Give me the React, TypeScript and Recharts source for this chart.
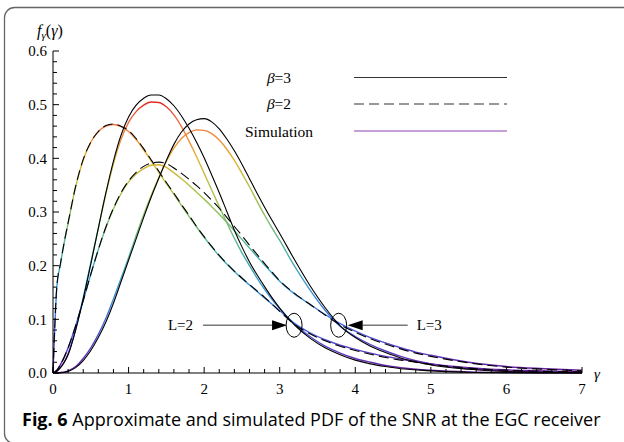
import { LineChart, Line, XAxis, YAxis, ReferenceDot } from "recharts";

// gamma grid (x values)
const gamma = [0, 0.05, 0.1, 0.15, 0.2, 0.3, 0.4, 0.5, 0.6, 0.7, 0.8, 0.9, 1.0, 1.1, 1.2, 1.3, 1.4, 1.5, 1.6, 1.7, 1.8, 1.9, 2.0, 2.1, 2.2, 2.3, 2.4, 2.5, 2.6, 2.7, 2.8, 2.9, 3.0, 3.2, 3.4, 3.6, 3.8, 4.0, 4.2, 4.4, 4.6, 4.8, 5.0, 5.5, 6.0, 6.5, 7.0];

// approximations
const beta2L2 = [0, 0.16, 0.205, 0.245, 0.28, 0.348, 0.398, 0.43, 0.45, 0.461, 0.464, 0.46, 0.452, 0.437, 0.418, 0.397, 0.376, 0.355, 0.335, 0.314, 0.294, 0.273, 0.254, 0.236, 0.219, 0.204, 0.19, 0.177, 0.165, 0.153, 0.141, 0.128, 0.115, 0.09, 0.073, 0.06, 0.05, 0.042, 0.035, 0.029, 0.024, 0.02, 0.016, 0.009, 0.005, 0.003, 0.002];
const beta3L2 = [0, 0.003, 0.01, 0.02, 0.034, 0.08, 0.138, 0.203, 0.27, 0.336, 0.395, 0.443, 0.477, 0.499, 0.512, 0.518, 0.518, 0.511, 0.498, 0.479, 0.456, 0.43, 0.401, 0.369, 0.336, 0.301, 0.266, 0.235, 0.207, 0.183, 0.161, 0.14, 0.121, 0.089, 0.065, 0.047, 0.034, 0.024, 0.017, 0.012, 0.008, 0.006, 0.004, 0.0015, 0.0005, 0.0002, 0.0001];
const beta2L3 = [0, 0.005, 0.016, 0.03, 0.047, 0.088, 0.135, 0.184, 0.23, 0.272, 0.307, 0.336, 0.358, 0.374, 0.385, 0.391, 0.393, 0.39, 0.382, 0.372, 0.361, 0.349, 0.336, 0.322, 0.307, 0.29, 0.273, 0.256, 0.238, 0.221, 0.204, 0.188, 0.172, 0.148, 0.128, 0.108, 0.09, 0.076, 0.064, 0.054, 0.045, 0.037, 0.031, 0.019, 0.011, 0.007, 0.004];
const beta3L3 = [0, 0, 0.0005, 0.001, 0.003, 0.01, 0.023, 0.042, 0.066, 0.095, 0.13, 0.17, 0.21, 0.25, 0.29, 0.328, 0.363, 0.396, 0.426, 0.449, 0.464, 0.472, 0.474, 0.468, 0.455, 0.436, 0.414, 0.389, 0.362, 0.335, 0.309, 0.284, 0.26, 0.21, 0.163, 0.122, 0.088, 0.066, 0.05, 0.038, 0.028, 0.021, 0.015, 0.007, 0.003, 0.0015, 0.0007];

// simulations
const simB2L2 = [0, 0.158, 0.204, 0.244, 0.279, 0.347, 0.397, 0.43, 0.45, 0.46, 0.463, 0.459, 0.45, 0.435, 0.416, 0.395, 0.374, 0.353, 0.333, 0.312, 0.292, 0.272, 0.253, 0.235, 0.218, 0.203, 0.189, 0.176, 0.164, 0.152, 0.14, 0.128, 0.116, 0.092, 0.075, 0.062, 0.052, 0.044, 0.037, 0.031, 0.026, 0.021, 0.017, 0.01, 0.006, 0.004, 0.002];
const simB3L2 = [0, 0.003, 0.011, 0.021, 0.036, 0.082, 0.14, 0.205, 0.27, 0.334, 0.39, 0.435, 0.467, 0.487, 0.499, 0.505, 0.504, 0.496, 0.481, 0.459, 0.432, 0.403, 0.372, 0.341, 0.31, 0.28, 0.251, 0.224, 0.2, 0.177, 0.156, 0.137, 0.12, 0.091, 0.068, 0.05, 0.037, 0.027, 0.02, 0.014, 0.01, 0.007, 0.005, 0.002, 0.001, 0.0005, 0.0002];
const simB2L3 = [0, 0.005, 0.016, 0.03, 0.047, 0.088, 0.135, 0.184, 0.23, 0.271, 0.306, 0.334, 0.356, 0.371, 0.381, 0.387, 0.388, 0.383, 0.373, 0.362, 0.35, 0.337, 0.324, 0.31, 0.296, 0.281, 0.265, 0.249, 0.233, 0.217, 0.201, 0.186, 0.171, 0.147, 0.128, 0.109, 0.092, 0.078, 0.066, 0.056, 0.047, 0.039, 0.033, 0.02, 0.012, 0.008, 0.005];
const simB3L3 = [0, 0, 0.001, 0.002, 0.004, 0.012, 0.027, 0.047, 0.072, 0.102, 0.138, 0.176, 0.215, 0.256, 0.295, 0.331, 0.364, 0.394, 0.419, 0.437, 0.448, 0.453, 0.452, 0.446, 0.434, 0.417, 0.396, 0.372, 0.347, 0.32, 0.294, 0.27, 0.247, 0.198, 0.155, 0.117, 0.087, 0.068, 0.053, 0.041, 0.031, 0.023, 0.017, 0.008, 0.004, 0.002, 0.001];

const xTicks = [0, 0.2, 0.4, 0.6, 0.8, 1, 1.2, 1.4, 1.6, 1.8, 2, 2.2, 2.4, 2.6, 2.8, 3, 3.2, 3.4, 3.6, 3.8, 4, 4.2, 4.4, 4.6, 4.8, 5, 5.2, 5.4, 5.6, 5.8, 6, 6.2, 6.4, 6.6, 6.8, 7];
const xMajor = [0, 1, 2, 3, 4, 5, 6, 7];
const yTicks = [0, 0.02, 0.04, 0.06, 0.08, 0.1, 0.12, 0.14, 0.16, 0.18, 0.2, 0.22, 0.24, 0.26, 0.28, 0.3, 0.32, 0.34, 0.36, 0.38, 0.4, 0.42, 0.44, 0.46, 0.48, 0.5, 0.52, 0.54, 0.56, 0.58, 0.6];
const yMajor = [0, 0.1, 0.2, 0.3, 0.4, 0.5, 0.6];

const legendLabels = ["3", "2", "Simulation"];
const markerNames = ["L=2", "L=3"];
const markerGamma = [3.19, 3.78];
const markerValue = [0.089, 0.089];

const SERIF = "'Liberation Serif', 'Times New Roman', serif";

const data = gamma.map((g, i) => ({
  gamma: g,
  b2l2: beta2L2[i],
  b3l2: beta3L2[i],
  b2l3: beta2L3[i],
  b3l3: beta3L3[i],
  s2l2: simB2L2[i],
  s3l2: simB3L2[i],
  s2l3: simB2L3[i],
  s3l3: simB3L3[i],
}));

const simKeys = ["s2l2", "s3l2", "s2l3", "s3l3"];
const solidKeys = ["b3l2", "b3l3"];
const dashedKeys = ["b2l2", "b2l3"];

const YTick = (props: any) => {
  const { x, y, payload } = props;
  const v = payload.value;
  const major = yMajor.some((m) => Math.abs(m - v) < 1e-9);
  return (
    <g>
      <line x1={x} x2={x + (major ? 6 : 4)} y1={y} y2={y} stroke="#000" strokeWidth={1} />
      {major && (
        <text x={x - 6} y={y} dy="0.35em" textAnchor="end" fontFamily={SERIF} fontSize={15} fill="#000">
          {v.toFixed(1)}
        </text>
      )}
    </g>
  );
};

const XTick = (props: any) => {
  const { x, y, payload } = props;
  const v = payload.value;
  const major = xMajor.some((m) => Math.abs(m - v) < 1e-9);
  return (
    <g>
      <line x1={x} x2={x} y1={y} y2={y - (major ? 6 : 4)} stroke="#000" strokeWidth={1} />
      {major && (
        <text x={x} y={y + 21} textAnchor="middle" fontFamily={SERIF} fontSize={15} fill="#000">
          {v}
        </text>
      )}
    </g>
  );
};

// arrow + ellipse annotation, offsets in px relative to the ellipse centre
const markerStyle = [
  { side: -1, tip: 7, back: 22, tail: 91, text: 101 },
  { side: 1, tip: 9, back: 24, tail: 69, text: 78 },
];

const makeMarker = (i: number) => (p: any) => {
  const { cx, cy } = p;
  const st = markerStyle[i];
  const s = st.side;
  return (
    <g>
      <ellipse cx={cx} cy={cy} rx={8} ry={12} fill="none" stroke="#000" strokeWidth={1} />
      <line x1={cx + s * st.tail} x2={cx + s * st.back} y1={cy} y2={cy} stroke="#777" strokeWidth={1.6} />
      <polygon
        points={`${cx + s * st.tip},${cy} ${cx + s * st.back},${cy - 5} ${cx + s * st.back},${cy + 5}`}
        fill="#000"
      />
      <text
        x={cx + s * st.text}
        y={cy + 5}
        textAnchor={s < 0 ? "end" : "start"}
        fontFamily={SERIF}
        fontSize={15}
        fill="#000"
      >
        {markerNames[i]}
      </text>
    </g>
  );
};

export default function App() {
  return (
    <div style={{ position: "absolute", left: 0, top: 0, width: 624, height: 442, overflow: "hidden", background: "#fff" }}>
      <div style={{ position: "absolute", left: 0, top: 0 }}>
        <LineChart width={624} height={400} data={data} margin={{ top: 51, right: 42, bottom: 0, left: 0 }}>
          <defs>
            <linearGradient id="simGrad" gradientUnits="userSpaceOnUse" x1="0" y1="373" x2="0" y2="94">
              <stop offset="0" stopColor="#6a1b9a" />
              <stop offset="0.08" stopColor="#5a3cc8" />
              <stop offset="0.19" stopColor="#3f6fe0" />
              <stop offset="0.33" stopColor="#3e9fd0" />
              <stop offset="0.44" stopColor="#4fb3a3" />
              <stop offset="0.58" stopColor="#8cbf5a" />
              <stop offset="0.69" stopColor="#bfbf40" />
              <stop offset="0.77" stopColor="#e2b030" />
              <stop offset="0.85" stopColor="#f08c40" />
              <stop offset="0.92" stopColor="#f06040" />
              <stop offset="0.98" stopColor="#e02020" />
            </linearGradient>
          </defs>
          <XAxis
            dataKey="gamma"
            type="number"
            domain={[0, 7]}
            ticks={xTicks}
            interval={0}
            height={27}
            tickSize={0}
            tickMargin={0}
            tick={<XTick />}
            axisLine={{ stroke: "#000", strokeWidth: 1 }}
          />
          <YAxis
            type="number"
            domain={[0, 0.6]}
            ticks={yTicks}
            interval={0}
            width={53}
            tickSize={0}
            tickMargin={0}
            tick={<YTick />}
            axisLine={{ stroke: "#000", strokeWidth: 1 }}
          />
          {simKeys.map((k) => (
            <Line key={k} dataKey={k} type="monotone" stroke="url(#simGrad)" strokeWidth={1.4} dot={false} isAnimationActive={false} />
          ))}
          {solidKeys.map((k) => (
            <Line key={k} dataKey={k} type="monotone" stroke="#000" strokeWidth={1.1} dot={false} isAnimationActive={false} />
          ))}
          {dashedKeys.map((k) => (
            <Line key={k} dataKey={k} type="monotone" stroke="#000" strokeWidth={1.1} strokeDasharray="10 5" dot={false} isAnimationActive={false} />
          ))}
          {markerNames.map((n, i) => (
            <ReferenceDot key={n} x={markerGamma[i]} y={markerValue[i]} r={8} shape={makeMarker(i)} />
          ))}
        </LineChart>
      </div>
      <svg width={624} height={442} style={{ position: "absolute", left: 0, top: 0, pointerEvents: "none" }}>
        <rect x={4.5} y={7.5} width={700} height={436} rx={10} fill="none" stroke="#666" strokeWidth={1.3} />
        <text x={37} y={36} fontFamily={SERIF} fontSize={16} fill="#000">
          <tspan fontStyle="italic">f</tspan>
          <tspan fontStyle="italic" fontSize={11} dy={3}>γ</tspan>
          <tspan dy={-3}>(</tspan>
          <tspan fontStyle="italic">γ</tspan>
          <tspan>)</tspan>
        </text>
        <text x={594} y={379} fontFamily={SERIF} fontStyle="italic" fontSize={15} fill="#000">γ</text>
        {/* legend */}
        <text x={279} y={83} textAnchor="middle" fontFamily={SERIF} fontSize={15.5} fill="#000">
          <tspan fontStyle="italic">β</tspan>={legendLabels[0]}
        </text>
        <line x1={354} x2={507} y1={77.5} y2={77.5} stroke="#333" strokeWidth={1.2} />
        <text x={279} y={109} textAnchor="middle" fontFamily={SERIF} fontSize={15.5} fill="#000">
          <tspan fontStyle="italic">β</tspan>={legendLabels[1]}
        </text>
        <line x1={354} x2={507} y1={104} y2={104} stroke="#333" strokeWidth={1.2} strokeDasharray="10 5" />
        <text x={279} y={137} textAnchor="middle" fontFamily={SERIF} fontSize={15.5} fill="#000">
          {legendLabels[2]}
        </text>
        <line x1={354} x2={507} y1={131} y2={131} stroke="#9040b0" strokeWidth={1.2} />
        {/* caption */}
        <text x={22} y={426} fontFamily="'Open Sans', sans-serif" fontSize={18} fill="#000">
          <tspan fontWeight="bold">Fig. 6</tspan> Approximate and simulated PDF of the SNR at the EGC receiver
        </text>
      </svg>
    </div>
  );
}
